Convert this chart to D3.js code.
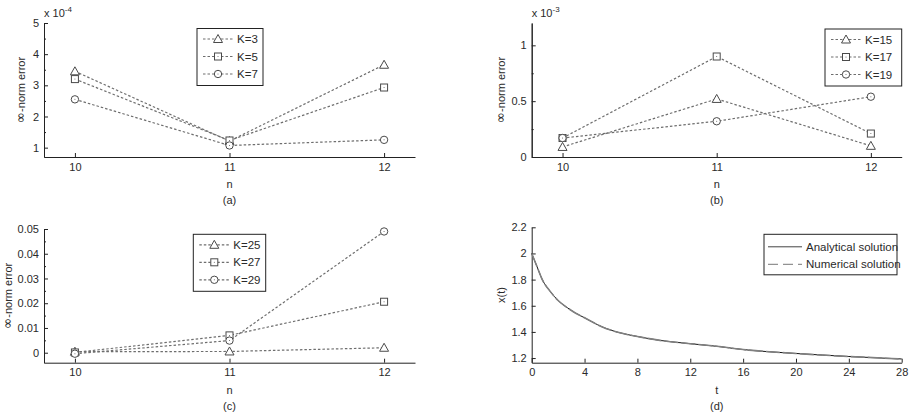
<!DOCTYPE html>
<html><head><meta charset="utf-8">
<script src="https://cdn.jsdelivr.net/npm/d3@7"></script>
<style>
body{margin:0;background:#fff;}
svg{display:block;font-family:"Liberation Sans",Arial,sans-serif;}
</style></head>
<body><svg id="c" width="913" height="415"></svg>
<script>
// ---------- data ----------
const nValues = [10, 11, 12];
// panel (a), x 10^-4
const aLabels = ["K=3", "K=5", "K=7"];
const aK3 = [3.45, 1.21, 3.66];
const aK5 = [3.20, 1.23, 2.93];
const aK7 = [2.55, 1.07, 1.25];
const aTicks = [1, 2, 3, 4, 5];
// panel (b), x 10^-3
const bLabels = ["K=15", "K=17", "K=19"];
const bK15 = [0.09, 0.52, 0.10];
const bK17 = [0.17, 0.90, 0.21];
const bK19 = [0.17, 0.32, 0.54];
const bTicks = [0, 0.5, 1];
// panel (c)
const cLabels = ["K=25", "K=27", "K=29"];
const cK25 = [0.0004, 0.0005, 0.0020];
const cK27 = [0.0001, 0.0070, 0.0206];
const cK29 = [-0.0004, 0.0049, 0.0490];
const cTicks = [0, 0.01, 0.02, 0.03, 0.04, 0.05];
// panel (d)
const dLabels = ["Analytical solution", "Numerical solution"];
const dT = [0, 0.4, 0.8, 1.4, 2, 2.7, 3.3, 4, 5.3, 6.6, 8, 9.7, 12, 14, 16, 20, 24, 28];
const dAnalytical = [2.0, 1.90, 1.80, 1.71, 1.64, 1.585, 1.545, 1.508, 1.44, 1.395, 1.365, 1.335, 1.31, 1.29, 1.265, 1.235, 1.212, 1.193];
const dNumerical  = [2.0, 1.90, 1.80, 1.71, 1.64, 1.585, 1.545, 1.508, 1.44, 1.395, 1.365, 1.335, 1.31, 1.29, 1.265, 1.235, 1.212, 1.193];
const dXTicks = [0, 4, 8, 12, 16, 20, 24, 28];
const dYTicks = [1.2, 1.4, 1.6, 1.8, 2.0, 2.2];
const markers = ["triangle", "square", "circle"];

// ---------- drawing ----------
const svg = d3.select("#c");
const TXT = "#2a2a2a";
const AX = "#222";
const LINE = "#6e6e6e";
const FONT = '"Liberation Sans",Arial,sans-serif';
const TICK_FS = 11, LAB_FS = 11, LEG_FS = 11.5;

function axes(g, x, y, xt, yt, yminor, xfmt, yfmt) {
  const h = y.range()[0];
  const x0 = x.range()[0];
  g.append("g").attr("transform", `translate(0,${h})`)
    .call(d3.axisBottom(x).tickValues(xt).tickSizeInner(-4).tickSizeOuter(0).tickPadding(6).tickFormat(xfmt));
  g.append("g").attr("transform", `translate(${x0},0)`)
    .call(d3.axisLeft(y).tickValues(yt).tickSizeInner(-4).tickSizeOuter(0).tickPadding(5).tickFormat(yfmt));
  if (yminor) {
    g.append("g").attr("transform", `translate(${x0},0)`)
      .call(d3.axisLeft(y).tickValues(yminor).tickSizeInner(-2).tickSizeOuter(0).tickFormat(""));
  }
  g.selectAll(".domain").attr("stroke", AX);
  g.selectAll(".tick line").attr("stroke", AX);
  g.selectAll(".tick text").attr("fill", TXT).attr("font-size", TICK_FS).attr("font-family", FONT);
}

function marker(g, type, cx, cy) {
  const s = g.append("g").attr("fill", "#fff").attr("stroke", "#4a4a4a").attr("stroke-width", 1);
  if (type === "triangle") {
    s.append("path").attr("d", `M${cx},${cy-4.5}L${cx+4.5},${cy+3.5}L${cx-4.5},${cy+3.5}Z`);
  } else if (type === "square") {
    s.append("rect").attr("x", cx-3.5).attr("y", cy-3.5).attr("width", 7).attr("height", 7);
    s.append("circle").attr("cx", cx).attr("cy", cy).attr("r", 0.5).attr("fill", "#555").attr("stroke", "none");
  } else {
    s.append("circle").attr("cx", cx).attr("cy", cy).attr("r", 3.7);
    s.append("circle").attr("cx", cx).attr("cy", cy).attr("r", 0.5).attr("fill", "#555").attr("stroke", "none");
  }
}

function labels(g, x0, x1, y0, y1, xl, sub, yl, ylx) {
  const cx = (x0 + x1) / 2;
  g.append("text").attr("x", cx).attr("y", y1 + 31).attr("text-anchor", "middle")
    .attr("font-size", LAB_FS).attr("fill", TXT).text(xl);
  g.append("text").attr("x", cx).attr("y", y1 + 47).attr("text-anchor", "middle")
    .attr("font-size", LAB_FS).attr("fill", TXT).text(sub);
  const t = g.append("text").attr("transform", `translate(${ylx},${(y0 + y1) / 2}) rotate(-90)`)
    .attr("text-anchor", "middle").attr("font-size", LAB_FS).attr("fill", TXT);
  if (yl.startsWith("\u221E")) {
    t.append("tspan").attr("font-size", 13.5).attr("font-family", '"DejaVu Sans",sans-serif').text("\u221E");
    t.append("tspan").text(yl.slice(1));
  } else {
    t.text(yl);
  }
}

function expLabel(g, x, y, e) {
  const t = g.append("text").attr("x", x).attr("y", y).attr("font-size", LAB_FS).attr("fill", TXT);
  t.append("tspan").text("x 10");
  t.append("tspan").attr("dy", -5).attr("font-size", 8).text(e);
}

function errPanel(opt) {
  const g = svg.append("g");
  const x = d3.scaleLinear().domain([9.8, 12.2]).range([opt.x0, opt.x1]);
  const y = d3.scaleLinear().domain(opt.ydom).range([opt.y1, opt.y0]);
  axes(g, x, y, nValues, opt.yticks, opt.yminor, d3.format("d"), opt.yfmt);
  const line = d3.line().x((d, i) => x(nValues[i])).y(d => y(d));
  opt.series.forEach((s, k) => {
    g.append("path").attr("d", line(s)).attr("fill", "none").attr("stroke", LINE)
      .attr("stroke-width", 1.2).attr("stroke-dasharray", "2.5,2");
  });
  opt.series.forEach((s, k) => {
    s.forEach((v, i) => marker(g, markers[k], x(nValues[i]), y(v)));
  });
  // legend
  const L = opt.legend;
  const lg = g.append("g");
  lg.append("rect").attr("x", L.x).attr("y", L.y).attr("width", L.w).attr("height", 57)
    .attr("fill", "#fff").attr("stroke", AX).attr("stroke-width", 1);
  opt.labels.forEach((lab, k) => {
    const yy = L.y + 10.5 + k * 17.5;
    lg.append("line").attr("x1", L.x + 6).attr("x2", L.x + 36).attr("y1", yy).attr("y2", yy)
      .attr("stroke", LINE).attr("stroke-width", 1.2).attr("stroke-dasharray", "2.5,2");
    marker(lg, markers[k], L.x + 21, yy);
    lg.append("text").attr("x", L.x + 40).attr("y", yy + 4).attr("font-size", LEG_FS)
      .attr("fill", TXT).text(lab);
  });
  labels(g, opt.x0, opt.x1, opt.y0, opt.y1, "n", opt.sub, "\u221E-norm error", opt.ylx);
  if (opt.exp) expLabel(g, opt.x0, 17, opt.exp);
}

errPanel({x0: 44, x1: 415, y0: 23, y1: 157, ydom: [0.7, 5], yticks: aTicks,
  yminor: [1.5, 2.5, 3.5, 4.5], yfmt: d3.format("d"), series: [aK3, aK5, aK7], labels: aLabels,
  legend: {x: 197, y: 28.5, w: 66}, sub: "(a)", ylx: 25, exp: "-4"});
errPanel({x0: 531.7, x1: 901.7, y0: 23, y1: 157, ydom: [0, 1.2], yticks: bTicks,
  yminor: [0.25, 0.75], yfmt: d => d === 0.5 ? "0.5" : d3.format("d")(d), series: [bK15, bK17, bK19], labels: bLabels,
  legend: {x: 825, y: 29, w: 76.7}, sub: "(b)", ylx: 505, exp: "-3"});
errPanel({x0: 44, x1: 415, y0: 229, y1: 362.7, ydom: [-0.00404, 0.05], yticks: cTicks,
  yminor: [0.005, 0.015, 0.025, 0.035, 0.045], yfmt: d => d === 0 ? "0" : d3.format(".2f")(d),
  series: [cK25, cK27, cK29], labels: cLabels,
  legend: {x: 193.3, y: 234.3, w: 72.4}, sub: "(c)", ylx: 12, exp: null});

// panel (d)
(function () {
  const g = svg.append("g");
  const x0 = 531.7, x1 = 901.7, y0 = 227.3, y1 = 362.7;
  const x = d3.scaleLinear().domain([0, 28]).range([x0, x1]);
  const y = d3.scaleLinear().domain([1.1645, 2.2]).range([y1, y0]);
  axes(g, x, y, dXTicks, dYTicks, null, d3.format("d"), d => d === 2 ? "2" : d3.format(".1f")(d));
  const line = d3.line().x((d, i) => x(dT[i])).y(d => y(d)).curve(d3.curveMonotoneX);
  g.append("path").attr("d", line(dAnalytical)).attr("fill", "none").attr("stroke", "#111").attr("stroke-width", 1);
  g.append("path").attr("d", line(dNumerical)).attr("fill", "none").attr("stroke", "#808080")
    .attr("stroke-width", 1.6).attr("stroke-dasharray", "14,3");
  const lg = g.append("g");
  const lx = 764, ly = 234.3;
  lg.append("rect").attr("x", lx).attr("y", ly).attr("width", 133).attr("height", 40.5)
    .attr("fill", "#fff").attr("stroke", AX).attr("stroke-width", 1);
  const dash = [null, "10,5"];
  dLabels.forEach((lab, k) => {
    const yy = ly + 12.5 + k * 17.5;
    const l = lg.append("line").attr("x1", lx + 4).attr("x2", lx + 38).attr("y1", yy).attr("y2", yy)
      .attr("stroke", k === 0 ? "#444" : "#777").attr("stroke-width", 1);
    if (dash[k]) l.attr("stroke-dasharray", dash[k]);
    lg.append("text").attr("x", lx + 42).attr("y", yy + 4).attr("font-size", LEG_FS)
      .attr("fill", TXT).text(lab);
  });
  labels(g, x0, x1, y0, y1, "t", "(d)", "x(t)", 505);
})();
</script></body></html>
